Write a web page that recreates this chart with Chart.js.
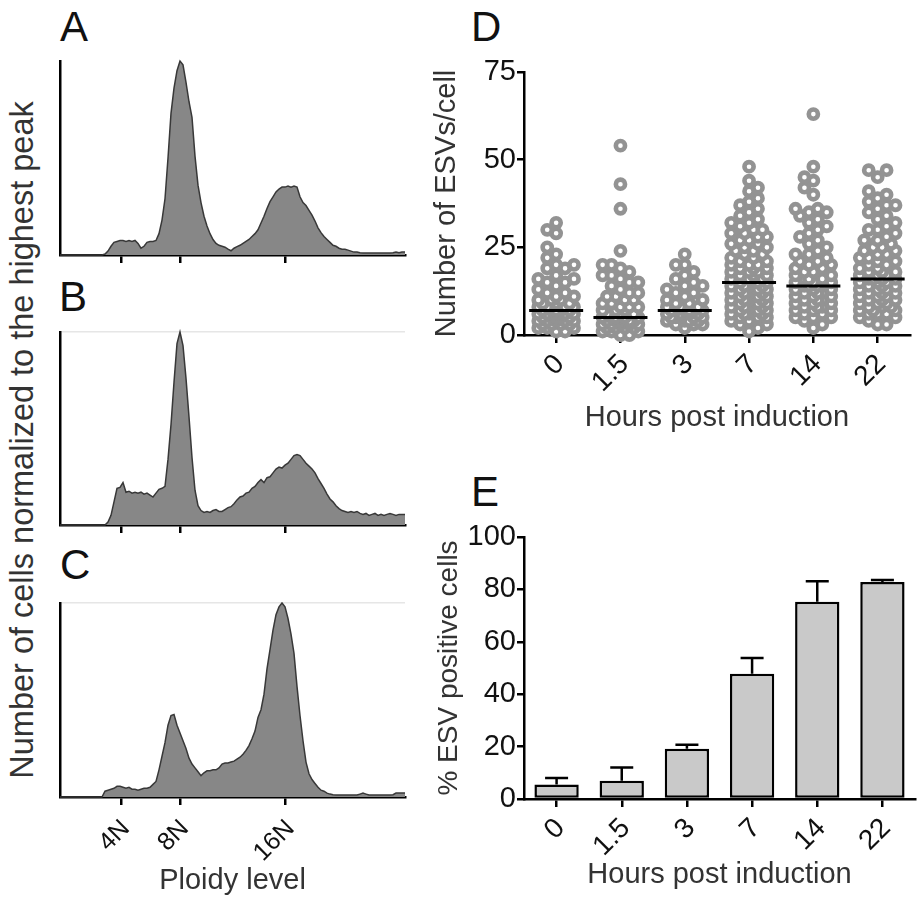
<!DOCTYPE html>
<html><head><meta charset="utf-8">
<script src="https://cdn.jsdelivr.net/npm/chart.js@4.4.0/dist/chart.umd.min.js"></script>
<style>
body{margin:0;background:#fff;width:919px;height:901px;position:relative;overflow:hidden;font-family:"Liberation Sans",Arial,sans-serif}
canvas{position:absolute}
.lab{position:absolute;font-size:42px;line-height:42px;color:#111}
#ylab{position:absolute;left:-358px;top:421px;width:760px;text-align:center;font-size:32.5px;line-height:38px;color:#333;transform:rotate(-90deg);transform-origin:center center;white-space:nowrap}
</style></head><body>
<div class="lab" style="left:60px;top:6px">A</div>
<div class="lab" style="left:59px;top:276px">B</div>
<div class="lab" style="left:60px;top:544px">C</div>
<div class="lab" style="left:471px;top:6px">D</div>
<div class="lab" style="left:471px;top:471px">E</div>
<div id="ylab">Number of cells normalized to the highest peak</div>
<canvas id="cA" width="380" height="220" style="left:40px;top:50px"></canvas>
<canvas id="cB" width="380" height="220" style="left:40px;top:320px"></canvas>
<canvas id="cC" width="380" height="311" style="left:40px;top:590px"></canvas>
<canvas id="cD" width="489" height="410" style="left:430px;top:40px"></canvas>
<canvas id="cE" width="489" height="401" style="left:430px;top:500px"></canvas>
<script>
// ---------------- DATA ----------------
const PLOIDY_TICKS = [20.3, 40, 75.2];
const PLOIDY_LABELS = ['4N', '8N', '16N'];
const HIST_MAX_X = 115;

const HIST_A = [
  0,0,0,0,0,0,0,0,0,0,
  0,0,0,0,0,0.5,2,4.5,6.5,7,
  7.5,7.5,7,7.5,7,7.5,6,3.5,4.5,6.5,
  7,7,7.5,11,18,29,50,73,86,95,
  100,98,89,79,71,51,36,27,20,15,
  11,8,6,5,4.5,4,3,2.2,3.5,4.3,
  5,6,7,8,9.5,11,13,16.5,20,24,
  27.5,30,32.5,34,35,35,35.5,35,35.5,35,
  30,27,25.5,23,20.5,17.5,14,11.5,9.5,8,
  6.5,5,4.5,3.5,3,3,2.5,2,1.5,1.5,
  1.2,1,1,1,1,1,1,1,1,1,
  1,1.2,1.5,1.2,1.5,1.5
];
const HIST_B = [
  0,0,0,0,0,0,0,0,0,0,
  0,0,0,0,0,0,1.5,5,12,19,
  19.5,22,17,17.5,16.5,17,16.5,17,16,16.5,
  15.5,14.5,16.5,18.5,19,20,34,52,74,94,
  100,93,76,56,35,18,10,7.5,6.5,7,
  6.5,7.5,8,7,7,8,9,9.5,11,13,
  14.5,15,16.5,17,19,20,22,23.5,22,24.5,
  25,27,29,30,29.5,31,32,34,36,36.5,
  36,34,32,30.5,29,27,24,21.5,19,16,
  13.5,12,10,8.5,7.5,7,6.5,7,6.5,7,
  6,5.5,6,5,5.5,6,5,5.5,5,5.5,
  6,5.5,5,5.5,5.5,5.5
];
const HIST_C = [
  0,0,0,0,0,0,0,0,0,0,
  0,0,0,0,0,3,3.5,4,4.5,5.5,
  5.5,5,4.5,5,4,4,3.5,4,4.5,4.5,
  5,6.5,8,14,21,28,37,42,42.5,37,
  33,29,25,20,17,15,13,11,12.5,13.5,
  13.5,14,14,15,17,17.5,17.5,18,18.5,19.5,
  20.5,22,24,26.5,30,34,41,45,53,66,
  76,86,94,98,100,98,92,84,74,57,
  42,29,18,12,9,7,5,3.5,3,2,
  1.5,1.2,1,1,1,1,1,1,1,1,
  1.5,2,1.5,1,1,1,1,1,1,1,
  1,1.2,2,2,2,2
];

const HOURS = ['0', '1.5', '3', '7', '14', '22'];
const ESV_0H  = [1,1,2,2,2,3,3,3,3,4,4,4,4,4,5,5,5,5,5,6,6,6,6,6,7,7,7,7,7,8,8,8,8,9,9,9,10,10,10,11,11,12,12,13,14,15,15,16,16,17,19,19,20,20,22,23,25,29,30,32];
const ESV_1H5 = [0,0,1,1,1,2,2,2,2,3,3,3,3,3,4,4,4,4,4,4,5,5,5,5,5,5,6,6,6,6,7,7,7,8,8,8,9,9,10,10,11,11,12,12,13,14,15,15,16,17,17,18,19,20,20,24,36,43,54];
const ESV_3H  = [2,3,3,3,4,4,4,4,5,5,5,5,5,6,6,6,6,6,7,7,7,7,7,7,8,8,8,9,9,10,10,11,12,12,13,14,14,15,16,17,18,20,20,23];
const ESV_7H  = [1,2,3,3,4,4,5,5,5,6,6,6,6,7,7,7,7,8,8,8,8,9,9,9,9,10,10,10,10,11,11,11,11,12,12,12,12,13,13,13,13,14,14,14,14,15,15,15,15,16,16,16,17,17,17,18,18,18,19,19,19,20,20,20,21,21,22,22,23,23,24,24,25,25,26,26,27,27,28,28,29,29,30,30,31,32,32,33,34,35,36,37,38,39,41,42,44,48];
const ESV_14H = [2,3,4,5,5,5,6,6,7,7,7,8,8,8,9,9,9,10,10,10,11,11,11,12,12,12,13,13,13,14,14,14,14,15,15,15,16,16,16,17,17,18,18,19,19,20,20,21,21,22,23,23,24,25,26,27,28,29,30,31,32,33,34,35,35,36,36,40,42,44,45,48,63];
const ESV_22H = [3,3,4,5,5,6,6,6,7,7,7,8,8,8,9,9,9,10,10,10,11,11,11,12,12,12,13,13,13,14,14,14,15,15,15,16,16,16,16,17,17,17,18,18,18,19,19,20,20,21,21,22,22,23,23,24,24,25,25,26,27,27,28,29,30,30,31,32,33,34,35,36,37,37,38,39,40,41,45,47,47];
const ESV_MEDIAN = [7, 5, 7, 15, 14, 16];

const PCT_MEAN = [5.5, 7, 19.2, 47.8, 75.3, 82.8];
const PCT_SD   = [2.5, 5, 1.5, 6, 7.8, 0.8];

// ---------------- SETUP ----------------
Chart.defaults.font.family = '"Liberation Sans", Arial, sans-serif';
Chart.defaults.color = '#000';
const noPlug = {legend: {display: false}, tooltip: {enabled: false}};
const YTICK_FONT = {size: 29};
const XTICK_FONT = {size: 28};

function histConfig(values, opts) {
  return {
    type: 'line',
    data: {datasets: [{
      data: values.map((v, i) => ({x: i, y: v})),
      fill: 'origin', backgroundColor: '#878787', borderColor: '#383838',
      borderWidth: 1.5, pointRadius: 0, tension: 0, clip: 4
    }]},
    options: {
      responsive: false, animation: false,
      layout: {padding: {left: 20, top: opts.top, right: 15, bottom: 0}},
      plugins: noPlug,
      scales: {
        x: {
          type: 'linear', min: 0, max: HIST_MAX_X,
          afterBuildTicks: s => { s.ticks = PLOIDY_TICKS.map(v => ({value: v})); },
          afterFit: s => { s.height = opts.xh; },
          ticks: {display: opts.labels, autoSkip: false, minRotation: 45, maxRotation: 45,
                  padding: 9, labelOffset: 5, font: {size: 25}, color: '#111',
                  callback: (v, i) => PLOIDY_LABELS[i]},
          grid: {drawOnChartArea: false, drawTicks: true, tickLength: 8, color: '#000', lineWidth: 2.5},
          border: {display: true, color: '#000', width: 2.5},
          title: {display: !!opts.title, text: 'Ploidy level', font: {size: 29}, color: '#333',
                  padding: {top: 0, bottom: 3}}
        },
        y: {
          min: 0, max: 100,
          afterBuildTicks: s => { s.ticks = [{value: 0}, {value: 100}]; },
          afterFit: s => { s.width = 0; },
          ticks: {display: false},
          grid: {drawTicks: false, lineWidth: 1.5,
                 color: c => (opts.topLine && c.tick && c.tick.value === 100) ? '#e6e6e6' : 'rgba(0,0,0,0)'},
          border: {display: true, color: '#000', width: 2.5}
        }
      }
    }
  };
}

new Chart(document.getElementById('cA'), histConfig(HIST_A, {top: 11, xh: 15, labels: false, topLine: false}));
new Chart(document.getElementById('cB'), histConfig(HIST_B, {top: 12, xh: 15, labels: false, topLine: true}));
new Chart(document.getElementById('cC'), histConfig(HIST_C, {top: 13, xh: 104, labels: true, topLine: true, title: true}));

// ---------------- D: dot plot ----------------
const D_W = 489, D_H = 410;
const D_AREA = {left: 94, top: 32, right: 483, bottom: 295};
const pxPerCat = (D_AREA.right - D_AREA.left) / HOURS.length;
const pxPerVal = (D_AREA.bottom - D_AREA.top) / 75;

function swarm(values) {
  const MIND = 9, STEP = 4.5, MAXOFF = 18;
  const cands = [0];
  for (let k = STEP; k <= MAXOFF + 1e-6; k += STEP) cands.push(-k, k);
  const placed = [];
  return values.slice().sort((a, b) => a - b).map((v, n) => {
    const y = v * pxPerVal;
    let best = 0, bestD = -1;
    for (let c0 of cands) {
      const c = (n % 2) ? -c0 : c0;
      let md = Infinity;
      for (const p of placed) { const d = Math.hypot(p.x - c, p.y - y); if (d < md) md = d; }
      if (md >= MIND) { best = c; break; }
      if (md > bestD) { bestD = md; best = c; }
    }
    placed.push({x: best, y});
    return {v, off: best / pxPerCat};
  });
}

const groups = [ESV_0H, ESV_1H5, ESV_3H, ESV_7H, ESV_14H, ESV_22H];
const dotData = [];
groups.forEach((g, gi) => swarm(g).forEach(p => dotData.push({x: gi + p.off, y: p.v})));
const medData = [];
ESV_MEDIAN.forEach((m, i) => { medData.push({x: i - 0.42, y: m}, {x: i + 0.42, y: m}, {x: i + 0.5, y: null}); });

new Chart(document.getElementById('cD'), {
  type: 'scatter',
  data: {datasets: [
    {data: medData, showLine: true, borderColor: '#000', borderWidth: 3, pointRadius: 0, spanGaps: false, order: 0, clip: false},
    {data: dotData, pointRadius: 4.6, borderWidth: 4.6, borderColor: '#939393', backgroundColor: '#fff', order: 1, clip: false}
  ]},
  options: {
    responsive: false, animation: false,
    layout: {padding: {left: 0, top: D_AREA.top, right: D_W - D_AREA.right, bottom: 0}},
    plugins: noPlug,
    scales: {
      x: {
        type: 'linear', min: -0.5, max: HOURS.length - 0.5,
        afterBuildTicks: s => { s.ticks = HOURS.map((h, i) => ({value: i})); },
        afterFit: s => { s.height = D_H - D_AREA.bottom; },
        ticks: {autoSkip: false, minRotation: 45, maxRotation: 45, padding: 5, labelOffset: 4, font: XTICK_FONT, color: '#111',
                callback: (v, i) => HOURS[i]},
        grid: {drawOnChartArea: false, tickLength: 8, color: '#000', lineWidth: 2.5},
        border: {color: '#000', width: 2.5},
        title: {display: true, text: 'Hours post induction', font: {size: 29}, color: '#333', padding: {top: 0, bottom: 15}}
      },
      y: {
        min: 0, max: 75,
        afterFit: s => { s.width = D_AREA.left; },
        ticks: {stepSize: 25, padding: 1, font: YTICK_FONT, color: '#111'},
        grid: {drawOnChartArea: false, tickLength: 7, color: '#000', lineWidth: 2.5},
        border: {color: '#000', width: 2.5},
        title: {display: true, text: 'Number of ESVs/cell', font: {size: 29}, color: '#333', padding: {top: 0, bottom: 0}}
      }
    }
  }
});

// ---------------- E: bar chart ----------------
const E_W = 489, E_H = 401;
const E_AREA = {left: 94, top: 37, right: 485, bottom: 299};
const errPlugin = {
  id: 'errbars',
  afterDatasetsDraw(chart) {
    const {ctx, scales: {y}} = chart;
    const meta = chart.getDatasetMeta(0);
    ctx.save();
    ctx.strokeStyle = '#000'; ctx.lineWidth = 2.5;
    meta.data.forEach((bar, i) => {
      const y0 = y.getPixelForValue(PCT_MEAN[i]);
      const y1 = y.getPixelForValue(PCT_MEAN[i] + PCT_SD[i]);
      ctx.beginPath();
      ctx.moveTo(bar.x, y0); ctx.lineTo(bar.x, y1);
      ctx.moveTo(bar.x - 11.5, y1); ctx.lineTo(bar.x + 11.5, y1);
      ctx.stroke();
    });
    ctx.restore();
  }
};
new Chart(document.getElementById('cE'), {
  type: 'bar',
  data: {labels: HOURS, datasets: [{
    data: PCT_MEAN, backgroundColor: '#c9c9c9', borderColor: '#000', borderWidth: 2.5,
    borderSkipped: false, barPercentage: 0.68, categoryPercentage: 1
  }]},
  options: {
    responsive: false, animation: false,
    layout: {padding: {left: 0, top: E_AREA.top, right: E_W - E_AREA.right, bottom: 0}},
    plugins: noPlug,
    scales: {
      x: {
        afterFit: s => { s.height = E_H - E_AREA.bottom; },
        ticks: {autoSkip: false, minRotation: 45, maxRotation: 45, padding: 5, labelOffset: 4, font: XTICK_FONT, color: '#111'},
        grid: {offset: false, drawOnChartArea: false, tickLength: 8, color: '#000', lineWidth: 2.5},
        border: {color: '#000', width: 2.5},
        title: {display: true, text: 'Hours post induction', font: {size: 29}, color: '#333', padding: {top: 0, bottom: 9}}
      },
      y: {
        min: 0, max: 100,
        afterFit: s => { s.width = E_AREA.left; },
        ticks: {stepSize: 20, padding: 1, font: YTICK_FONT, color: '#111'},
        grid: {drawOnChartArea: false, tickLength: 7, color: '#000', lineWidth: 2.5},
        border: {color: '#000', width: 2.5},
        title: {display: true, text: '% ESV positive cells', font: {size: 28}, color: '#333', padding: {top: 2, bottom: 0}}
      }
    }
  },
  plugins: [errPlugin]
});
</script>
</body></html>
